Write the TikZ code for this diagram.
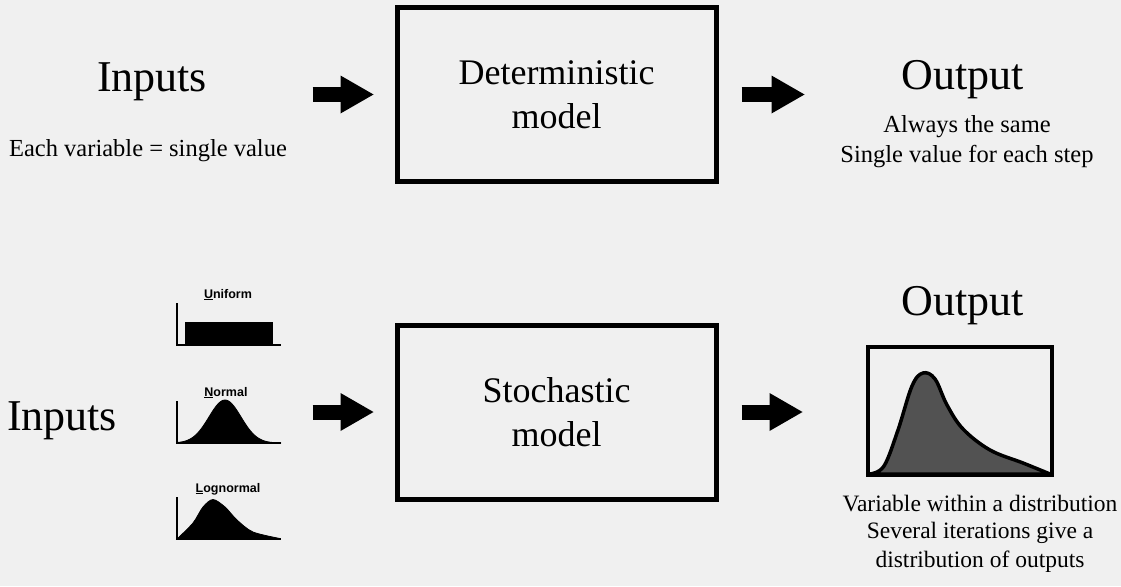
\documentclass[tikz,border=0pt]{standalone}
\usepackage{fontspec}
\IfFontExistsTF{LiberationSerif-Regular.ttf}
  {\setmainfont{LiberationSerif-Regular.ttf}[BoldFont=LiberationSerif-Bold.ttf]}
  {\setmainfont{Liberation Serif}}
\setsansfont{Liberation Sans}
\usepackage{tikz}
\usetikzlibrary{arrows.meta}
\definecolor{paper}{RGB}{240,240,240}
\definecolor{densgray}{RGB}{82,82,82}
\tikzset{
  modelbox/.style={draw, line width=5pt, minimum width=319pt, align=center,
    font=\rmfamily\fontsize{36}{44}\selectfont},
  bigtitle/.style={anchor=base, font=\rmfamily\fontsize{44}{50}\selectfont},
  note/.style={anchor=base, font=\rmfamily\fontsize{24.5}{30}\selectfont},
  distlabel/.style={anchor=base, inner sep=0pt, font=\sffamily\bfseries\fontsize{12.5}{14}\selectfont},
  fatarrow/.style={line width=15pt, -{Triangle[length=33pt,width=38pt,line width=0pt]}},
  axisline/.style={line width=1.5pt},
  density/.style={fill=black, line width=0.8pt},
}

\begin{document}
\begin{tikzpicture}[x=1pt,y=-1pt]
\fill[paper] (0,0) rectangle (1121,586);
\useasboundingbox (0,0) rectangle (1121,586);

% deterministic row
\node[bigtitle] (in1) at (152,92) {Inputs};
\node[note] (in1note) at (148,156) {Each variable = single value};
\node[modelbox, minimum height=173pt] (det) at (556.5,94.5) {Deterministic\\model};
\node[bigtitle] (out1) at (963,89) {Output};
\node[note] (out1a) at (967,132) {Always the same};
\node[note] (out1b) at (967,162) {Single value for each step};
\draw[fatarrow] ([xshift=-82pt]det.west) -- ([xshift=-21pt]det.west);
\draw[fatarrow] ([xshift=23pt]det.east) -- ([xshift=86pt]det.east);

% stochastic row
\node[bigtitle] (in2) at (62,430) {Inputs};
\node[modelbox, minimum height=174pt] (sto) at (556.5,412) {Stochastic\\model};
\node[bigtitle] (out2) at (963,315) {Output};
\node[note, font=\rmfamily\fontsize{23.5}{28}\selectfont] (out2a) at (980,511) {Variable within a distribution};
\node[note, font=\rmfamily\fontsize{23.5}{28}\selectfont] (out2b) at (980,538) {Several iterations give a};
\node[note, font=\rmfamily\fontsize{23.5}{28}\selectfont] (out2c) at (980,567) {distribution of outputs};
\draw[fatarrow] ([xshift=-82pt]sto.west) -- ([xshift=-21pt]sto.west);
\draw[fatarrow] ([xshift=23pt]sto.east) -- ([xshift=84pt]sto.east);

% input distributions
\node[distlabel] (unif) at (228,298) {\underline{U}niform};
\fill (185,322) rectangle (273,345);
\draw[axisline] (177,303) -- (177,345) -- (281,345);

\node[distlabel] (norm) at (226,396) {\underline{N}ormal};
\draw[density] plot[domain=0:104, samples=60] ({177+\x},{443-43*exp(-((\x-48)^2)/(2*16^2))}) -- cycle;
\draw[axisline] (177,401) -- (177,443) -- (281,443);

\node[distlabel] (logn) at (228,492) {\underline{L}ognormal};
\draw[density] plot[smooth] coordinates {(177,539) (193,523) (203,507) (213,499.5) (225,507) (237,520) (253,532) (280,538.5)} -- cycle;
\draw[axisline] (177,497) -- (177,539) -- (281,539);

% output distribution
\node[draw, line width=4pt, minimum width=184pt, minimum height=128pt] (hist) at (960,411) {};
\draw[fill=densgray, line width=3.5pt, line join=round] plot[smooth, tension=0.6] coordinates {(870,474) (884,466) (898,430) (912,386) (923,373) (935,379) (947,405) (963,429) (990,450) (1023,463) (1050,474)} -- cycle;
\end{tikzpicture}
\end{document}
